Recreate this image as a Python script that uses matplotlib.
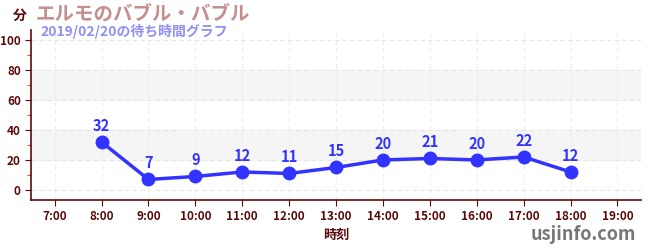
import matplotlib
matplotlib.use("Agg")
import matplotlib.pyplot as plt
from matplotlib.ticker import MultipleLocator

plt.rcParams['font.family'] = ['Noto Sans CJK JP', 'DejaVu Sans']

hours = [8, 9, 10, 11, 12, 13, 14, 15, 16, 17, 18]
waits = [32, 7, 9, 12, 11, 15, 20, 21, 20, 22, 12]
tick_hours = list(range(7, 20))
tick_labels = ['%d:00' % h for h in tick_hours]

title = 'エルモのバブル・バブル'
subtitle = '2019/02/20の待ち時間グラフ'

dark = '#5a0a0a'
blue = '#3333ff'

fig = plt.figure(figsize=(6.5, 2.5), dpi=100)
ax = fig.add_axes([0.048, 0.2, 0.938, 0.68])

ax.set_xlim(6.5, 19.5)
ax.set_ylim(-6.7, 106.7)

for lo, hi in [(20, 40), (60, 80)]:
    ax.axhspan(lo, hi, color='#f5f5f5', zorder=0)

ax.set_xticks(tick_hours)
ax.set_xticklabels(tick_labels)
ax.set_yticks(range(0, 101, 20))
ax.yaxis.set_minor_locator(MultipleLocator(10))
ax.grid(True, which='major', color='#e6e6e6', linestyle=(0, (4, 3)), linewidth=0.8)
ax.xaxis.grid(True, color='#ececec', linestyle=(0, (4, 3)), linewidth=0.8)

for side in ['top', 'right']:
    ax.spines[side].set_visible(False)
for side in ['left', 'bottom']:
    ax.spines[side].set_color(dark)
    ax.spines[side].set_linewidth(1.2)

ax.tick_params(axis='both', which='major', colors=dark, labelsize=8.5, length=4)
ax.tick_params(axis='y', which='minor', colors='#dd2222', length=3)
for lab in ax.get_xticklabels() + ax.get_yticklabels():
    lab.set_fontweight('bold')

ax.plot(hours, waits, color=blue, linewidth=2.5, marker='o', markersize=9,
        zorder=3)
for h, w in zip(hours, waits):
    ax.annotate(str(w), (h, w), xytext=(0, 6), textcoords='offset points',
                ha='center', va='bottom', color=blue, fontsize=10.5,
                fontweight='bold')

ax.set_xlabel('時刻', color=dark, fontsize=9.5, fontweight='bold', labelpad=3)

fig.text(0.02, 0.935, '分', color=dark, fontsize=10, fontweight='bold',
         va='center')
fig.text(0.055, 0.945, title, color='#c48f8f', fontsize=14, fontweight='bold',
         va='center')
fig.text(0.063, 0.875, subtitle, color='#9090f5', fontsize=10,
         fontweight='bold', va='center')
fig.text(0.978, 0.06, 'usjinfo.com', color='#777777', fontsize=13,
         fontweight='bold', ha='right', va='center')

fig.savefig('out.png', dpi=100)
